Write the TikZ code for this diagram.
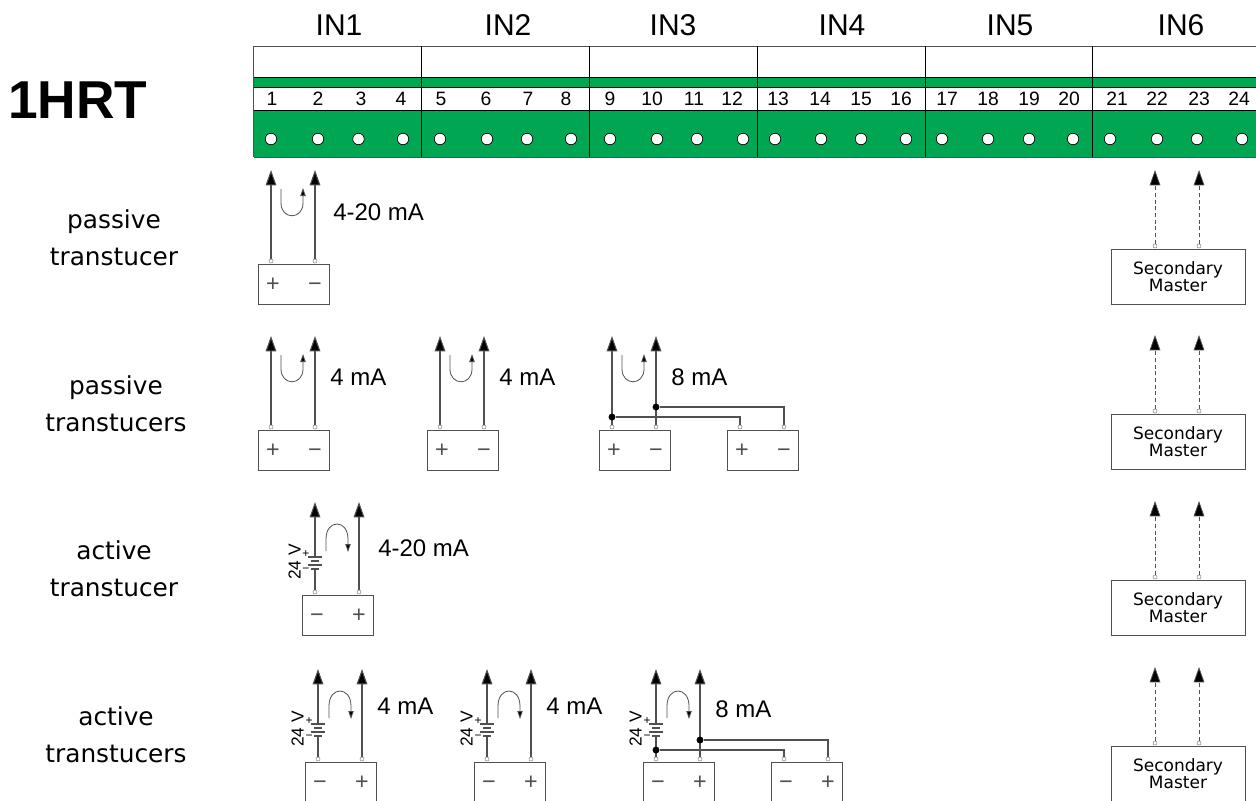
\documentclass[tikz,border=0pt]{standalone}
\usepackage{fontspec}
\setmainfont{Liberation Sans}
\newfontfamily\dvs{DejaVu Sans}
\usetikzlibrary{arrows.meta}
\definecolor{boardgreen}{HTML}{00A651}
\definecolor{wirecol}{HTML}{505050}
\tikzset{
  x=0.75pt,y=-0.75pt,
  wire/.style={draw=wirecol,line width=0.8pt},
  tip/.style={-{Triangle[length=11.5pt,width=8pt,fill=black]}},
  pinc/.style={circle,draw=wirecol!70,fill=white,line width=0.4pt,inner sep=0pt,minimum size=3pt},
  jun/.style={circle,fill=black,inner sep=0pt,minimum size=5.2pt},
  xbox/.style={draw=wirecol,line width=0.75pt,fill=white,anchor=north west,minimum width=53.25pt,minimum height=30pt,inner sep=0pt},
  secbox/.style={draw=wirecol,line width=0.75pt,fill=white,anchor=north west,minimum width=100.5pt,minimum height=41.25pt,inner sep=0pt,align=center,font=\dvs\fontsize{12.75}{12.75}\selectfont},
  sym/.style={anchor=base,font=\fontsize{17.5}{17.5}\selectfont,inner sep=0pt,text=wirecol},
  term/.style={circle,draw=black,fill=white,line width=0.5pt,inner sep=0pt,minimum size=8.6pt},
  numlab/.style={anchor=base,inner sep=0pt,font=\fontsize{14.5}{14.5}\selectfont},
  inlab/.style={anchor=base,inner sep=0pt,font=\fontsize{22.5}{22.5}\selectfont},
  rowlab/.style={anchor=base,inner sep=0pt,font=\dvs\fontsize{18.6}{18.6}\selectfont},
  curlab/.style={anchor=base west,inner sep=0pt,font=\fontsize{18}{18}\selectfont},
  loopline/.style={draw=wirecol,line width=0.6pt,-{Triangle[length=6pt,width=4pt,fill=black]}},
  batlab/.style={inner sep=0pt,font=\fontsize{13}{13}\selectfont},
  batsign/.style={inner sep=0pt,font=\fontsize{9}{9}\selectfont},
}
% name, box x, box y, left sign, right sign
\newcommand{\sensorbox}[5]{%
  \node[xbox] (#1) at ({#2-0.5},{#3-0.2}) {};
  \node[pinc] (#1L) at ({#2+13},{#3-3}) {};
  \node[pinc] (#1R) at ({#2+57},{#3-3}) {};
  \node[sym] (#1sl) at ({#2+15},{#3+27.5}) {#4};
  \node[sym] (#1sr) at ({#2+57},{#3+27.5}) {#5};
}
% passive group: name, box x, box y
\newcommand{\passivewires}[3]{%
  \coordinate (#1LT) at ({#2+13},{#3-94});
  \coordinate (#1RT) at ({#2+57},{#3-94});
  \draw[wire,tip] (#1L.north) -- (#1LT);
  \draw[wire,tip] (#1R.north) -- (#1RT);
  \draw[loopline] ({#2+23},{#3-75}) -- ({#2+23},{#3-61}) .. controls ({#2+23},{#3-44}) and ({#2+45},{#3-44}) .. ({#2+45},{#3-61}) -- ({#2+45},{#3-76});
}
% active group: name, box x, box y
\newcommand{\activewires}[3]{%
  \coordinate (#1LT) at ({#2+13},{#3-93});
  \coordinate (#1RT) at ({#2+57},{#3-93});
  \coordinate (#1B1) at ({#2+13},{#3-38});
  \coordinate (#1B2) at ({#2+13},{#3-26});
  \draw[wire,tip] (#1B1) -- (#1LT);
  \draw[wire] (#1L.north) -- (#1B2);
  \draw[wire,tip] (#1R.north) -- (#1RT);
  \draw[wire] ({#2+6},{#3-38}) -- ({#2+20},{#3-38});
  \draw[wire] ({#2+9},{#3-34}) -- ({#2+17},{#3-34});
  \draw[wire] ({#2+6},{#3-30}) -- ({#2+20},{#3-30});
  \draw[wire] ({#2+9},{#3-26}) -- ({#2+17},{#3-26});
  \node[batlab,rotate=90] (#1V) at ({#2-7.5},{#3-33}) {24 V};
  \node[batsign] (#1P) at ({#2+4},{#3-41}) {+};
  \node[batsign] (#1M) at ({#2+4},{#3-25}) {−};
  \draw[loopline] ({#2+24},{#3-44}) -- ({#2+24},{#3-56}) .. controls ({#2+24},{#3-76}) and ({#2+46},{#3-76}) .. ({#2+46},{#3-56}) -- ({#2+46},{#3-43});
}
% name, box y
\newcommand{\secondary}[2]{%
  \node[secbox] (#1) at (1110.5,#2) {Secondary\\Master};
  \node[pinc] (#1L) at (1155,{#2-3}) {};
  \node[pinc] (#1R) at (1199,{#2-3}) {};
  \coordinate (#1LT) at (1155,{#2-79});
  \coordinate (#1RT) at (1199,{#2-79});
  \draw[wire,densely dashed,line width=0.6pt,tip] (#1L.north) -- (#1LT);
  \draw[wire,densely dashed,line width=0.6pt,tip] (#1R.north) -- (#1RT);
}
\begin{document}
\begin{tikzpicture}
\useasboundingbox (0,0) rectangle (1256,800);
\clip (0,0) rectangle (1256,800);
% terminal board
\draw[draw=wirecol,line width=0.75pt] (253.5,46) rectangle (1270,77.5);
\fill[boardgreen] (253.5,77.5) rectangle (1270,87);
\fill[boardgreen] (253.5,110.5) rectangle (1270,157);
\draw[black,line width=0.75pt] (253.5,77.5) -- (1270,77.5) (253.5,87) -- (1270,87) (253.5,110.5) -- (1270,110.5);
\draw[wirecol,line width=0.75pt] (253.5,157) -- (1270,157) (253.5,46) -- (253.5,157);
\foreach \dx in {421.5,589,757,925,1092} \draw[black,line width=0.75pt] (\dx,46) -- (\dx,157);
\foreach \n/\tx in {1/271,2/318,3/358.5,4/403,5/440,6/487,7/527,8/571,9/610,10/657,11/697,12/743,13/775,14/821,15/861,16/906,17/942,18/988,19/1029,20/1073,21/1110,22/1157,23/1197,24/1242}
  \node[term] (t\n) at (\tx,139) {};
\foreach \n/\tx in {1/272,2/318,3/361,4/401,5/441,6/486,7/528,8/566,9/610,10/652,11/694,12/732,13/778,14/820,15/861,16/901,17/947,18/988,19/1029,20/1069,21/1117,22/1157,23/1199,24/1239}
  \node[numlab] (n\n) at (\tx,105.5) {\n};
\foreach \n/\tx in {1/339,2/508,3/673,4/842,5/1010,6/1181}
  \node[inlab] (in\n) at (\tx,35) {IN\n};
\node[anchor=base west,inner sep=0pt,font=\bfseries\fontsize{40}{40}\selectfont] (title) at (8,118.5) {1HRT};
% row labels
\node[rowlab] (r1a) at (114,228) {passive};
\node[rowlab] (r1b) at (114,265) {transtucer};
\node[rowlab] (r2a) at (116,394) {passive};
\node[rowlab] (r2b) at (116,431) {transtucers};
\node[rowlab] (r3a) at (114,559) {active};
\node[rowlab] (r3b) at (114,596) {transtucer};
\node[rowlab] (r4a) at (116,725) {active};
\node[rowlab] (r4b) at (116,762) {transtucers};
% row 1
\sensorbox{a}{258}{264}{+}{−}
\passivewires{a}{258}{264}
\node[curlab] (alab) at (333,220) {4-20 mA};
% row 2
\sensorbox{b}{258}{430}{+}{−}
\passivewires{b}{258}{430}
\node[curlab] (blab) at (330,385) {4 mA};
\sensorbox{c}{427}{430}{+}{−}
\passivewires{c}{427}{430}
\node[curlab] (clab) at (499,385) {4 mA};
\sensorbox{d}{599}{430}{+}{−}
\passivewires{d}{599}{430}
\node[curlab] (dlab) at (671,385) {8 mA};
\sensorbox{e}{727}{430}{+}{−}
\node[jun] (dj1) at (612,417) {};
\node[jun] (dj2) at (656,407) {};
\draw[wire] (dj1) -| (eL.north);
\draw[wire] (dj2) -| (eR.north);
% row 3
\sensorbox{f}{302}{595}{−}{+}
\activewires{f}{302}{595}
\node[curlab] (flab) at (378,556) {4-20 mA};
% row 4
\sensorbox{g}{305}{762}{−}{+}
\activewires{g}{305}{762}
\node[curlab] (glab) at (377,714) {4 mA};
\sensorbox{h}{474}{762}{−}{+}
\activewires{h}{474}{762}
\node[curlab] (hlab) at (546,714) {4 mA};
\sensorbox{i}{643}{762}{−}{+}
\activewires{i}{643}{762}
\node[curlab] (ilab) at (715,717) {8 mA};
\sensorbox{k}{771}{762}{−}{+}
\node[jun] (ij1) at (656,750) {};
\node[jun] (ij2) at (700,740) {};
\draw[wire] (ij1) -| (kL.north);
\draw[wire] (ij2) -| (kR.north);
% secondary masters
\secondary{s}{249}
\secondary{u}{414}
\secondary{v}{580}
\secondary{w}{746}
\end{tikzpicture}
\end{document}
